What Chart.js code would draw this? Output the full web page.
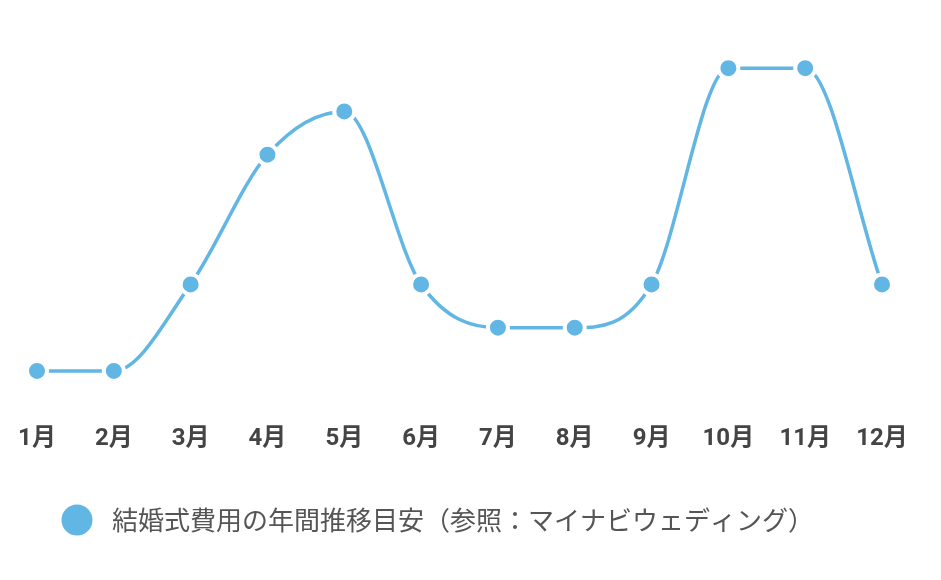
<!DOCTYPE html>
<html><head><meta charset="utf-8">
<script src="https://cdn.jsdelivr.net/npm/chart.js@4"></script>
<style>html,body{margin:0;padding:0;background:#fff}#wrap{width:941px;height:580px}</style>
</head><body><div id="wrap"><canvas id="c"></canvas></div>
<script>
const months = ['1月','2月','3月','4月','5月','6月','7月','8月','9月','10月','11月','12月'];
const costIndex = [1,1,3,6,7,3,2,2,3,8,8,3];
const seriesLabel = '結婚式費用の年間推移目安（参照：マイナビウェディング）';
const lineColor = '#62b6e4';

// legend marker: circle drawn off-centre inside a wider image
const marker = document.createElement('canvas');
marker.width = 50; marker.height = 32;
(function(){
  const g = marker.getContext('2d');
  g.fillStyle = lineColor;
  g.beginPath(); g.arc(16, 16, 15.5, 0, Math.PI * 2); g.fill();
})();

new Chart(document.getElementById('c'), {
  type: 'line',
  data: {
    labels: months,
    datasets: [{
      label: seriesLabel,
      data: costIndex,
      borderColor: lineColor,
      backgroundColor: lineColor,
      pointBackgroundColor: lineColor,
      pointBorderColor: '#ffffff',
      pointBorderWidth: 4,
      pointRadius: 10,
      borderWidth: 3.5,
      cubicInterpolationMode: 'monotone',
      fill: false
    }]
  },
  options: {
    responsive: true,
    maintainAspectRatio: false,
    animation: false,
    layout: { padding: { left: 23, right: 59, top: 20, bottom: 37 } },
    scales: {
      x: {
        grid: { display: false, drawTicks: false },
        border: { display: false },
        ticks: { color: '#444', font: { family: 'Roboto, "Noto Sans CJK JP"', size: 24, weight: 'bold', lineHeight: 1.25 }, padding: 3, maxRotation: 0 }
      },
      y: {
        display: true,
        min: -0.159, max: 9.113,
        grid: { display: false, drawTicks: false },
        border: { display: false },
        ticks: { display: false },
        afterFit: (s) => { s.width = 14; }
      }
    },
    plugins: {
      legend: {
        position: 'bottom',
        align: 'start',
        labels: {
          usePointStyle: true,
          pointStyle: marker,
          color: '#555',
          padding: 50,
          font: { family: '"Noto Sans CJK JP", Roboto', size: 26 }
        }
      },
      tooltip: { enabled: false }
    }
  }
});
</script></body></html>
